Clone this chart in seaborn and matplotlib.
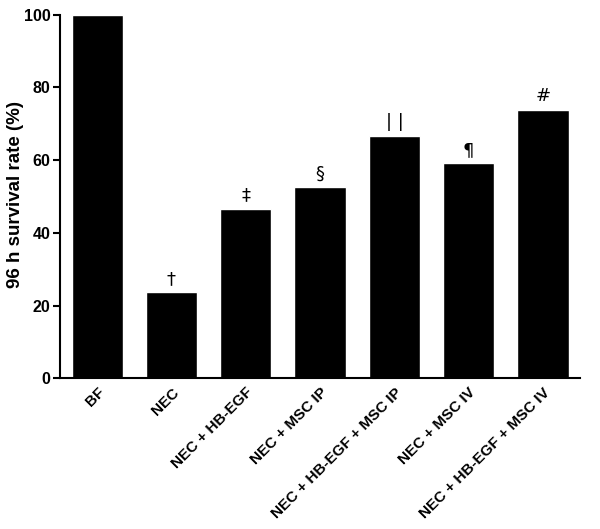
import numpy as np
import pandas as pd
from matplotlib import pyplot as plt
import seaborn as sns

groups = ['BF', 'NEC', 'NEC + HB-EGF', 'NEC + MSC IP', 'NEC + HB-EGF + MSC IP',
          'NEC + MSC IV', 'NEC + HB-EGF + MSC IV']
survival = [100, 23.6, 46.5, 52.5, 66.7, 59.1, 73.8]
marks = ['', '†', '‡', '§', '| |', '¶', '#']

df = pd.DataFrame({'group': groups, 'survival': survival})

sns.set_style("ticks")
plt.rcParams['font.family'] = ['Liberation Sans', 'DejaVu Sans']
plt.rcParams['text.color'] = 'black'
plt.rcParams['xtick.color'] = 'black'
plt.rcParams['ytick.color'] = 'black'
plt.rcParams['axes.labelcolor'] = 'black'
plt.rcParams['axes.edgecolor'] = 'black'

fig = plt.figure(figsize=(6, 5.29), dpi=100)
ax = fig.add_axes([0.1, 0.285, 0.867, 0.687])
sns.barplot(data=df, x='group', y='survival', color='black', width=0.69,
            saturation=1, ax=ax)

# significance marks above the bars
for i, (v, m) in enumerate(zip(survival, marks)):
    if m:
        ax.text(i, v + 1.3, m, ha='center', va='bottom', fontsize=13,
                family=['DejaVu Sans'])

ax.set_ylim(0, 100)
ax.set_yticks([0, 20, 40, 60, 80, 100])
ax.set_xlim(-0.5, 6.5)
ax.set_xlabel('')
ax.set_ylabel('96 h survival rate (%)', fontsize=13.5, fontweight='bold', va='center')
ax.yaxis.set_label_coords(-0.085, 0.505)
ax.tick_params(axis='x', length=0, pad=5)
ax.tick_params(axis='y', width=1.5, length=5, pad=2)
plt.setp(ax.get_xticklabels(), rotation=45, ha='right', rotation_mode='anchor',
         fontsize=11, fontweight='bold')
plt.setp(ax.get_yticklabels(), fontsize=11.5, fontweight='bold')
for s in ['left', 'bottom']:
    ax.spines[s].set_linewidth(1.5)
sns.despine(ax=ax)

fig.savefig('out.png', dpi=100)
